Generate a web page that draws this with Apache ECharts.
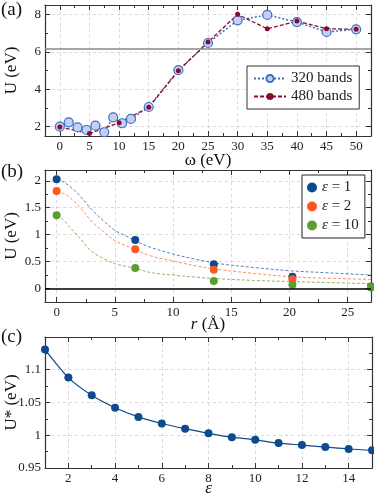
<!DOCTYPE html>
<html>
<head>
<meta charset="utf-8">
<script src="https://cdn.jsdelivr.net/npm/echarts@6/dist/echarts.min.js"></script>
<style>
  html, body { margin: 0; padding: 0; background: #fff; }
  #chart { width: 374px; height: 499px; }
</style>
</head>
<body>
<div id="chart"></div>
<script>
// ---- (a) U vs omega ----
const omega320 = [0, 1.5, 3, 4.5, 6, 7.5, 9, 10.5, 12, 15, 20, 25, 30, 35, 40, 45, 50];
const u320 = [2.0, 2.23, 1.96, 1.82, 2.05, 1.70, 2.50, 2.18, 2.41, 3.05, 5.02, 6.47, 7.68, 7.97, 7.59, 7.06, 7.20];
const omega480 = [0, 5, 10, 15, 20, 25, 30, 35, 40, 45, 50];
const u480 = [1.98, 1.63, 2.21, 3.03, 4.98, 6.52, 8.0, 7.23, 7.64, 7.23, 7.20];
const uRef = 6.17;
const aXMajor = [0, 5, 10, 15, 20, 25, 30, 35, 40, 45, 50];
const aXMinor = [2.5, 7.5, 12.5, 17.5, 22.5, 27.5, 32.5, 37.5, 42.5, 47.5];
const aYMajor = [2, 4, 6, 8];
const aYMinor = [3, 5, 7];

// ---- (b) U vs r ----
const rPts = [0, 6.75, 13.5, 20.25, 27];
const uEps1 = [2.03, 0.90, 0.45, 0.22, 0.04];
const uEps2 = [1.81, 0.73, 0.35, 0.17, 0.03];
const uEps10 = [1.36, 0.38, 0.14, 0.07, 0.02];
const rFit = [0, 0.5, 1, 2, 3, 4, 5, 6, 7, 8, 10, 12, 14, 17, 20, 23.5, 27];
const fitEps1 = [2.02, 1.99, 1.92, 1.72, 1.47, 1.26, 1.08, 0.97, 0.86, 0.77, 0.64, 0.54, 0.46, 0.39, 0.33, 0.29, 0.25];
const fitEps2 = [1.79, 1.77, 1.71, 1.51, 1.25, 1.06, 0.89, 0.79, 0.70, 0.61, 0.51, 0.42, 0.35, 0.28, 0.22, 0.19, 0.17];
const fitEps10 = [1.35, 1.29, 1.17, 0.93, 0.69, 0.56, 0.46, 0.41, 0.36, 0.30, 0.25, 0.21, 0.18, 0.15, 0.13, 0.11, 0.09];
const bXMajor = [0, 5, 10, 15, 20, 25];
const bXMinor = [2.5, 7.5, 12.5, 17.5, 22.5];
const bYMajor = [0, 0.5, 1, 1.5, 2];
const bYMinor = [0.25, 0.75, 1.25, 1.75];

// ---- (c) U* vs epsilon ----
const epsVals = [1, 2, 3, 4, 5, 6, 7, 8, 9, 10, 11, 12, 13, 14, 15];
const uStar = [1.131, 1.088, 1.061, 1.042, 1.028, 1.018, 1.010, 1.003, 0.997, 0.993, 0.988, 0.985, 0.982, 0.979, 0.977];
const cXMajor = [2, 4, 6, 8, 10, 12, 14];
const cXMinor = [3, 5, 7, 9, 11, 13];
const cYMajor = [0.95, 1, 1.05, 1.1];
const cYMinor = [0.975, 1.025, 1.075, 1.125];

const serif = '"Liberation Serif", "Times New Roman", "DejaVu Serif", serif';
const frame = { color: '#333', width: 1.2 };
const gridLine = { color: '#d0d0d0', width: 0.8, type: [3, 3] };
const nameStyle = { fontFamily: serif, fontSize: 17, color: '#111',
  rich: { i: { fontFamily: serif, fontSize: 17, fontStyle: 'italic', color: '#111' } } };

const pairs = (xs, ys) => xs.map((x, i) => [x, ys[i]]);

// four axes per side pair: labelled one, mirror, and minor-tick overlays
function axisGroup(dim, gridIndex, min, max, major, minor, name, nameGap) {
  const sides = dim === 'x' ? ['bottom', 'top'] : ['left', 'right'];
  const base = {
    type: 'value', gridIndex, min, max,
    axisLine: { onZero: false, lineStyle: frame },
    axisLabel: { show: false },
    splitLine: { show: false }
  };
  const tick = (vals, len) => ({ show: true, inside: true, length: len, customValues: vals,
    lineStyle: { color: '#333', width: 1 } });
  const gridVals = major.concat(minor).filter(v => v > min && v < max);
  const hidden = { show: false, onZero: false };
  return [
    { ...base, position: sides[0], name, nameLocation: 'middle', nameGap, nameMoveOverlap: false,
      nameTextStyle: nameStyle,
      axisTick: tick(major, 5),
      axisLabel: { show: true, customValues: major, margin: 4, fontFamily: serif, fontSize: 13, color: '#222' },
      splitLine: { show: true, customValues: gridVals, lineStyle: gridLine } },
    { ...base, position: sides[1], axisTick: tick(major, 5) },
    { ...base, position: sides[0], axisLine: hidden, axisTick: tick(minor, 3) },
    { ...base, position: sides[1], axisLine: hidden, axisTick: tick(minor, 3) }
  ];
}

const chart = echarts.init(document.getElementById('chart'));

const fitLine = (name, data, color) => ({
  name, type: 'line', xAxisIndex: 4, yAxisIndex: 4, data, smooth: 0.35,
  showSymbol: false, silent: true,
  lineStyle: { color, width: 1, type: [3, 2], opacity: 0.8 }, z: 2
});
const dots = (name, data, color) => ({
  name, type: 'scatter', xAxisIndex: 4, yAxisIndex: 4, data, symbolSize: 8,
  itemStyle: { color, opacity: 1 }, z: 3
});

const option = {
  animation: false,
  backgroundColor: '#fff',
  grid: [
    { left: 45, top: 5, width: 326, height: 131, outerBoundsMode: 'none' },
    { left: 45, top: 170, width: 326, height: 132, outerBoundsMode: 'none' },
    { left: 45, top: 337, width: 327, height: 131, outerBoundsMode: 'none' }
  ],
  xAxis: [
    ...axisGroup('x', 0, -2.5, 52.5, aXMajor, aXMinor, 'ω (eV)', 16),
    ...axisGroup('x', 1, -1, 27, bXMajor, bXMinor, '{i|r} (Å)', 14),
    ...axisGroup('x', 2, 1, 15, cXMajor, cXMinor, '{i|ε}', 12)
  ],
  yAxis: [
    ...axisGroup('y', 0, 1.5, 8.5, aYMajor, aYMinor, 'U (eV)', 25),
    ...axisGroup('y', 1, -0.25, 2.2, bYMajor, bYMinor, 'U (eV)', 25),
    ...axisGroup('y', 2, 0.95, 1.15, cYMajor, cYMinor, 'U* (eV)', 25)
  ],
  legend: [
    {
      data: ['320 bands', '480 bands'],
      left: 247, top: 66, orient: 'vertical',
      backgroundColor: '#fff', borderColor: '#333', borderWidth: 1, borderRadius: 0,
      padding: [5, 7, 5, 6], itemGap: 3, itemWidth: 32, itemHeight: 9,
      textStyle: { fontFamily: serif, fontSize: 15, color: '#222' }
    },
    {
      data: [{ name: 'ε = 1', icon: 'circle' }, { name: 'ε = 2', icon: 'circle' }, { name: 'ε = 10', icon: 'circle' }],
      left: 302, top: 175, orient: 'vertical',
      backgroundColor: '#fff', borderColor: '#222', borderWidth: 1, borderRadius: 0,
      padding: [5, 6, 5, 5], itemGap: 4, itemWidth: 10, itemHeight: 10,
      formatter: n => n.replace('ε', '{i|ε}'),
      textStyle: { fontFamily: serif, fontSize: 15, color: '#222',
        rich: { i: { fontFamily: serif, fontSize: 15, fontStyle: 'italic', color: '#222' } } }
    }
  ],
  graphic: [
    { type: 'text', left: 1, top: 1, style: { text: '(a)', font: '19px "Liberation Serif", serif', fill: '#111' } },
    { type: 'text', left: 1, top: 163, style: { text: '(b)', font: '19px "Liberation Serif", serif', fill: '#111' } },
    { type: 'text', left: 1, top: 328, style: { text: '(c)', font: '19px "Liberation Serif", serif', fill: '#111' } }
  ],
  series: [
    {
      name: '320 bands', type: 'line', xAxisIndex: 0, yAxisIndex: 0, data: pairs(omega320, u320),
      symbol: 'circle', symbolSize: 9,
      itemStyle: { color: '#c6cef5', borderColor: '#3c6fbf', borderWidth: 1.2 },
      lineStyle: { color: '#3c6fbf', width: 1.5, type: [2, 2] },
      markLine: {
        silent: true, symbol: ['none', 'none'], label: { show: false },
        lineStyle: { color: '#888', width: 1.5, type: 'solid' },
        data: [{ yAxis: uRef }]
      }
    },
    {
      name: '480 bands', type: 'line', xAxisIndex: 0, yAxisIndex: 0, data: pairs(omega480, u480),
      symbol: 'circle', symbolSize: 5,
      itemStyle: { color: '#8c0b2c' },
      lineStyle: { color: '#8c0b2c', width: 1.3, type: [4, 2] }
    },
    {
      ...fitLine('fit1', pairs(rFit, fitEps1), '#2f64a8'),
      markLine: {
        silent: true, symbol: ['none', 'none'], label: { show: false },
        lineStyle: { color: '#000', width: 1.5, type: 'solid', opacity: 1 },
        data: [{ yAxis: 0 }]
      }
    },
    fitLine('fit2', pairs(rFit, fitEps2), '#ff7043'),
    fitLine('fit10', pairs(rFit, fitEps10), '#6aaa36'),
    dots('ε = 1', pairs(rPts, uEps1), '#0b4a8e'),
    dots('ε = 2', pairs(rPts, uEps2), '#ff5722'),
    dots('ε = 10', pairs(rPts, uEps10), '#5a9e2f'),
    {
      name: 'U*', type: 'line', xAxisIndex: 8, yAxisIndex: 8, data: pairs(epsVals, uStar),
      smooth: 0.3, symbol: 'circle', symbolSize: 8,
      itemStyle: { color: '#0e4a8c' },
      lineStyle: { color: '#0e4a8c', width: 1.2 }
    }
  ]
};

chart.setOption(option);
window.addEventListener('resize', () => chart.resize());
</script>
</body>
</html>
